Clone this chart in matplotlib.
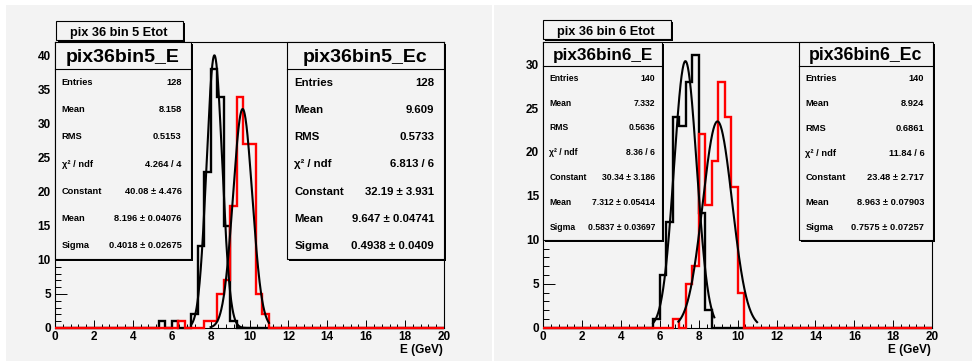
import numpy as np
import matplotlib
matplotlib.use("Agg")
import matplotlib.pyplot as plt
from matplotlib.patches import Rectangle
from matplotlib.lines import Line2D

W, H, DPI = 972, 362, 100

# 60 bins of 1/3 GeV over 0-20 GeV
edges = np.linspace(0, 20, 61)

# bin 5: counts given from a starting bin index
e5_start = 16
e5_counts = [1, 0, 1, 0, 0, 2, 12, 23, 38, 34, 15, 1]
ec5_start = 19
ec5_counts = [1, 0, 0, 0, 1, 1, 5, 7, 18, 34, 27, 27, 5, 2]

# bin 6
e6_start = 17
e6_counts = [1, 6, 12, 24, 23, 28, 31, 13, 2]
ec6_start = 20
ec6_counts = [1, 0, 5, 7, 22, 14, 19, 28, 24, 16, 4]

# gaussian fits: constant, mean, sigma and drawn range
fit_e5 = (40.08, 8.196, 0.4018)
fit_ec5 = (32.19, 9.647, 0.4938)
fit_e6 = (30.34, 7.312, 0.5837)
fit_ec6 = (23.48, 8.963, 0.7575)
range_e5 = (7.0, 10.5)
range_ec5 = (8.0, 11.0)
range_e6 = (5.65, 8.8)
range_ec6 = (6.95, 11.0)

# stats-box numbers
stats_e5 = dict(entries=128, mean=8.158, rms=0.5153, chi2=4.264, ndf=4,
                const=(40.08, 4.476), fmean=(8.196, 0.04076), sigma=(0.4018, 0.02675))
stats_ec5 = dict(entries=128, mean=9.609, rms=0.5733, chi2=6.813, ndf=6,
                 const=(32.19, 3.931), fmean=(9.647, 0.04741), sigma=(0.4938, 0.0409))
stats_e6 = dict(entries=140, mean=7.332, rms=0.5636, chi2=8.36, ndf=6,
                const=(30.34, 3.186), fmean=(7.312, 0.05414), sigma=(0.5837, 0.03697))
stats_ec6 = dict(entries=140, mean=8.924, rms=0.6861, chi2=11.84, ndf=6,
                 const=(23.48, 2.717), fmean=(8.963, 0.07903), sigma=(0.7575, 0.07257))

row_labels = ["Entries", "Mean", "RMS", "\u03c7\u00b2 / ndf", "Constant", "Mean", "Sigma"]

plt.rcParams['font.family'] = ['Liberation Sans', 'DejaVu Sans']
plt.rcParams['font.weight'] = 'bold'

BG = '#f3f3f3'
fig = plt.figure(figsize=(W / DPI, H / DPI), dpi=DPI, facecolor='white')


def fx(x):
    return x / W


def fy(y):
    return 1 - y / H


def full_counts(start, counts):
    arr = np.zeros(len(edges) - 1)
    arr[start:start + len(counts)] = counts
    return arr


def pad(x0, y0, x1, y1):
    fig.add_artist(Rectangle((fx(x0), fy(y1)), (x1 - x0) / W, (y1 - y0) / H,
                             transform=fig.transFigure, facecolor=BG,
                             edgecolor='none', zorder=-10))


def box(x0, y0, x1, y1, sh=2.0):
    fig.add_artist(Rectangle((fx(x0 + sh), fy(y1 + sh)), (x1 - x0) / W, (y1 - y0) / H,
                             transform=fig.transFigure, facecolor='black',
                             edgecolor='none', zorder=5))
    fig.add_artist(Rectangle((fx(x0), fy(y1)), (x1 - x0) / W, (y1 - y0) / H,
                             transform=fig.transFigure, facecolor=BG,
                             edgecolor='black', linewidth=0.8, zorder=6))


def hline(x0, x1, y):
    fig.add_artist(Line2D([fx(x0), fx(x1)], [fy(y), fy(y)], transform=fig.transFigure,
                          color='black', linewidth=0.8, zorder=7))


def ptext(x, y, s, size, ha='left'):
    # y is the visual centre of capitals; convert to a baseline
    em = size * DPI / 72.0
    fig.text(fx(x), fy(y + 0.36 * em), s, fontsize=size, ha=ha, va='baseline',
             fontweight='bold', zorder=8)


def fmt(v):
    return f"{v:.4g}"


def stats_box(x0, x1, y0, y1, ysep, name, hsize, st, size, lx, rx, row0, dy):
    box(x0, y0, x1, y1)
    hline(x0, x1, ysep)
    ptext((x0 + x1) / 2, (y0 + ysep) / 2, name, hsize, ha='center')
    values = [str(st['entries']), fmt(st['mean']), fmt(st['rms']),
              f"{fmt(st['chi2'])} / {st['ndf']}",
              f"{fmt(st['const'][0])} \u00b1 {fmt(st['const'][1])}",
              f"{fmt(st['fmean'][0])} \u00b1 {fmt(st['fmean'][1])}",
              f"{fmt(st['sigma'][0])} \u00b1 {fmt(st['sigma'][1])}"]
    for i, (lab, val) in enumerate(zip(row_labels, values)):
        y = row0 + i * dy
        ptext(lx, y, lab, size)
        ptext(rx, y, val, size, ha='right')


def title_box(x0, x1, y0, y1, s):
    box(x0, y0, x1, y1)
    ptext((x0 + x1) / 2 - 1, (y0 + y1) / 2 + 0.5, s, 9.2, ha='center')


def gaus(x, p):
    c, m, s = p
    return c * np.exp(-0.5 * ((x - m) / s) ** 2)


def panel(x0, x1, y0, y1, ymax, ystep, hE, hEc, fE, fEc, rE, rEc):
    ax = fig.add_axes([fx(x0), fy(y1), (x1 - x0) / W, (y1 - y0) / H])
    ax.set_facecolor(BG)
    ax.stairs(hE, edges, color='black', linewidth=1.7, clip_on=False, zorder=2)
    ax.stairs(hEc, edges, color='#ff0000', linewidth=1.7, clip_on=False, zorder=3)
    for p, r in ((fE, rE), (fEc, rEc)):
        xs = np.linspace(r[0], r[1], 300)
        ax.plot(xs, gaus(xs, p), color='black', linewidth=1.5, zorder=4)
    ax.set_xlim(0, 20)
    ax.set_ylim(0, ymax)
    ax.set_xticks(np.arange(0, 21, 2))
    ax.set_xticks(np.arange(0, 20.01, 0.4), minor=True)
    ax.set_yticks(np.arange(0, ymax, ystep))
    ax.set_yticks(np.arange(0, ymax, 1), minor=True)
    ax.tick_params(axis='x', which='major', direction='in', length=5.8, width=0.7,
                   labelsize=8.5, pad=2.5)
    ax.tick_params(axis='x', which='minor', direction='in', length=2.9, width=0.7)
    ax.tick_params(axis='y', which='major', direction='in', length=8.3, width=0.7,
                   labelsize=8.5, pad=3)
    ax.tick_params(axis='y', which='minor', direction='in', length=4.2, width=0.7)
    for sp in ax.spines.values():
        sp.set_linewidth(0.8)
    fig.text(fx(x1 - 0.7), fy(350), 'E (GeV)', fontsize=8.6, ha='right', va='center',
             fontweight='bold')
    return ax


# backgrounds of the two pads
pad(6, 5, 491.5, 361)
pad(494, 5, 972, 361)

# left pad: bin 5
panel(55, 444, 41.7, 328, 42.08, 5,
      full_counts(e5_start, e5_counts), full_counts(ec5_start, ec5_counts),
      fit_e5, fit_ec5, range_e5, range_ec5)
title_box(55.7, 183.3, 21, 40, "pix 36 bin 5 Etot")
stats_box(55, 191, 41.7, 259.3, 69, "pix36bin5_E", 14, stats_e5, 6.7,
          61.7, 181.7, 81.7, 27.2)
stats_box(286.7, 444.3, 41.7, 259.3, 69, "pix36bin5_Ec", 14, stats_ec5, 8.2,
          294.3, 434, 81.7, 27.2)

# right pad: bin 6
panel(543.3, 932, 41.7, 327.7, 32.55, 5,
      full_counts(e6_start, e6_counts), full_counts(ec6_start, ec6_counts),
      fit_e6, fit_ec6, range_e6, range_ec6)
title_box(543.3, 671, 20, 39, "pix 36 bin 6 Etot")
stats_box(543.3, 661.7, 41.7, 240, 65.7, "pix36bin6_E", 12.3, stats_e6, 6.2,
          549.3, 655, 77.7, 24.83)
stats_box(798.7, 932.7, 41.7, 240, 65.7, "pix36bin6_Ec", 12.8, stats_ec6, 6.7,
          805.3, 924.3, 77.7, 24.83)

fig.savefig("out.png", dpi=DPI, facecolor='white')
